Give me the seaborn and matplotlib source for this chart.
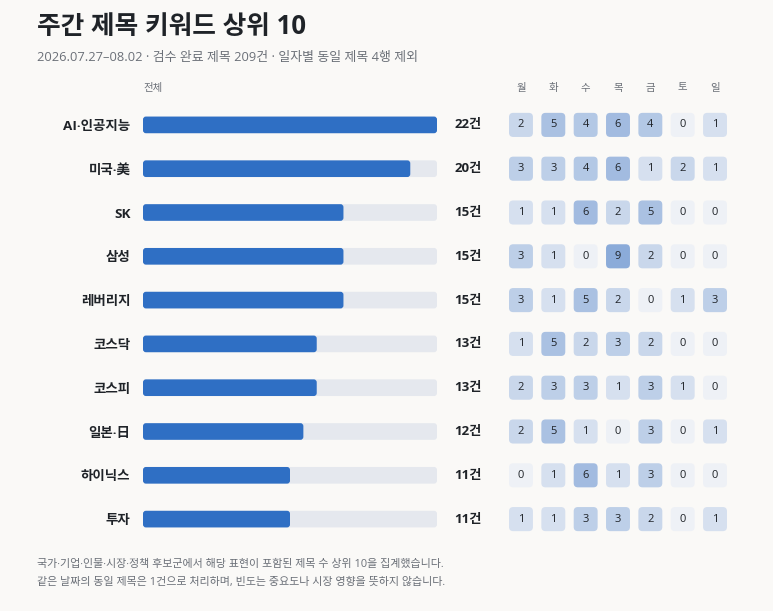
import numpy as np
import pandas as pd
import matplotlib
matplotlib.use('Agg')
import matplotlib.pyplot as plt
from matplotlib.patches import FancyBboxPatch
from matplotlib.colors import LinearSegmentedColormap
import seaborn as sns

"""Data"""
keywords = ['AI·인공지능', '미국·美', 'SK', '삼성', '레버리지', '코스닥', '코스피', '일본·日', '하이닉스', '투자']
totals = [22, 20, 15, 15, 15, 13, 13, 12, 11, 11]
days = ['월', '화', '수', '목', '금', '토', '일']
daily = [
    [2, 5, 4, 6, 4, 0, 1],
    [3, 3, 4, 6, 1, 2, 1],
    [1, 1, 6, 2, 5, 0, 0],
    [3, 1, 0, 9, 2, 0, 0],
    [3, 1, 5, 2, 0, 1, 3],
    [1, 5, 2, 3, 2, 0, 0],
    [2, 3, 3, 1, 3, 1, 0],
    [2, 5, 1, 0, 3, 0, 1],
    [0, 1, 6, 1, 3, 0, 0],
    [1, 1, 3, 3, 2, 0, 1],
]

title = '주간 제목 키워드 상위 10'
subtitle = '2026.07.27–08.02 · 검수 완료 제목 209건 · 일자별 동일 제목 4행 제외'
footer = ['국가·기업·인물·시장·정책 후보군에서 해당 표현이 포함된 제목 수 상위 10을 집계했습니다.',
          '같은 날짜의 동일 제목은 1건으로 처리하며, 빈도는 중요도나 시장 영향을 뜻하지 않습니다.']

bg = '#FAF9F7'
blue = '#2F6FC4'
track = '#E5E8EE'
dark = '#1F2328'
gray = '#6B7078'

sns.set_theme(style='white')
# a latin family first so the middle dot stays narrow, hangul falls back to CJK
plt.rcParams['font.family'] = ['Open Sans', 'Noto Sans CJK KR', 'DejaVu Sans']

W, H = 773, 611
fig = plt.figure(figsize=(W / 100, H / 100), dpi=100, facecolor=bg)

df = pd.DataFrame({'keyword': keywords, 'total': totals})
max_total = max(totals)

# bar panel
ax = fig.add_axes([143 / W, 1 - 541 / H, 294 / W, 438 / H])
ax.set_facecolor('none')
sns.barplot(data=df.assign(full=max_total), x='full', y='keyword', color=track, width=0.38, ax=ax, saturation=1)
sns.barplot(data=df, x='total', y='keyword', color=blue, width=0.38, ax=ax, saturation=1)
ax.set_xlim(0, max_total)
ax.set_ylim(len(keywords) - 0.5, -0.5)

# round the corners of the bars (about 3px)
for p in list(ax.patches):
    x0, y0 = p.get_x(), p.get_y()
    w, h = p.get_width(), p.get_height()
    fc = p.get_facecolor()
    p.remove()
    ax.add_patch(FancyBboxPatch((x0, y0), w, h, boxstyle='round,pad=0,rounding_size=0.22',
                                mutation_aspect=0.31, fc=fc, ec='none'))

ax.set_xlabel('')
ax.set_ylabel('')
ax.set_xticks([])
ax.set_yticks(range(len(keywords)))
ax.set_yticklabels(keywords, fontsize=9.7, fontweight='bold', color=dark)
ax.tick_params(axis='y', length=0, pad=9)
for s in ax.spines.values():
    s.set_visible(False)

for i, t in enumerate(totals):
    ax.text(max_total * 1.06, i, f'{t}건', va='center', ha='left', fontsize=9.5,
            fontweight='bold', color=dark)

fig.text(143 / W, 1 - 88 / H, '전체', fontsize=7.5, color=gray, va='center', ha='left')

# daily grid
vals = np.array(daily)
cmap = LinearSegmentedColormap.from_list('cells', ['#EEF1F6', '#8BABD9'])
hx = fig.add_axes([504.8 / W, 1 - 541 / H, 226.4 / W, 438 / H])
hx.set_facecolor('none')
hx.set_xlim(-0.5, len(days) - 0.5)
hx.set_ylim(len(keywords) - 0.5, -0.5)
cw, ch = 0.74, 0.55
for i in range(vals.shape[0]):
    for j in range(vals.shape[1]):
        v = vals[i, j]
        c = cmap((v / vals.max()) ** 0.65)
        hx.add_patch(FancyBboxPatch((j - cw / 2, i - ch / 2), cw, ch,
                                    boxstyle='round,pad=0,rounding_size=0.13',
                                    mutation_aspect=0.74, fc=c, ec='none'))
        hx.text(j, i, str(v), ha='center', va='center', fontsize=8, color=dark)
hx.axis('off')
for j, d in enumerate(days):
    hx.text(j, -0.5 - (103 - 88) / 43.8, d, ha='center', va='center', fontsize=7.5, color=gray)

fig.text(37 / W, 1 - 27 / H, title, fontsize=18.5, fontweight='bold', color=dark, va='center', ha='left')
fig.text(37 / W, 1 - 57 / H, subtitle, fontsize=9.3, color=gray, va='center', ha='left')
fig.text(37 / W, 1 - 565 / H, footer[0], fontsize=7.95, color=gray, va='center', ha='left')
fig.text(37 / W, 1 - 582 / H, footer[1], fontsize=7.95, color=gray, va='center', ha='left')

fig.savefig('out.png', dpi=100, facecolor=bg)
